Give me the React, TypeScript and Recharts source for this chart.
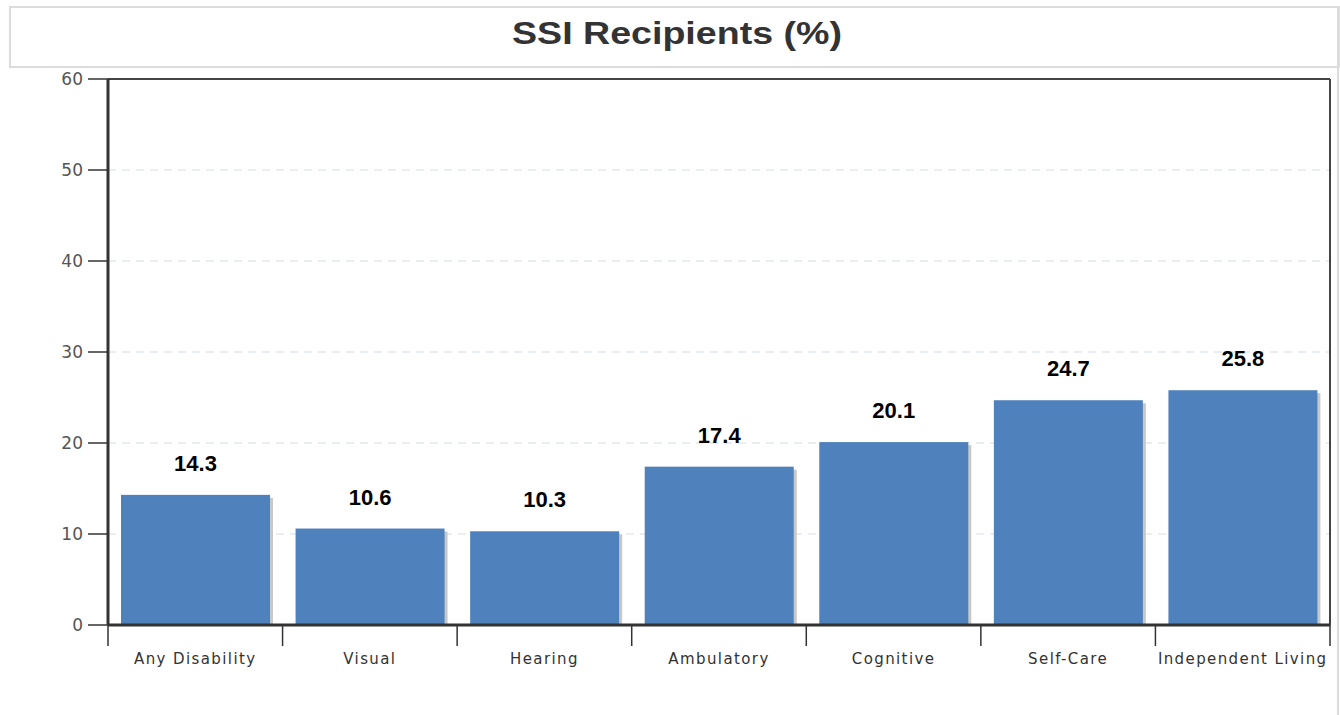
import React from 'react';
import { ComposedChart, Bar, XAxis, YAxis, CartesianGrid, LabelList, ReferenceLine } from 'recharts';

const categories = ['Any Disability', 'Visual', 'Hearing', 'Ambulatory', 'Cognitive', 'Self-Care', 'Independent Living'];
const values = [14.3, 10.6, 10.3, 17.4, 20.1, 24.7, 25.8];
const yTicks = [0, 10, 20, 30, 40, 50, 60];
const title = 'SSI Recipients (%)';

const data = categories.map((c, i) => ({ name: c, value: values[i] }));

const BarShape = (props: any) => {
  const { x, y, width, height } = props;
  if (height <= 0) return null;
  return (
    <g>
      <rect x={x + 3} y={y + 3} width={width} height={Math.max(0, height - 3)} fill="#c8c8c8" />
      <rect x={x} y={y} width={width} height={height} fill="#4f81bd" />
    </g>
  );
};

const XTick = (props: any) => {
  const { x, y, payload, index } = props;
  const off = payload.offset ?? 0;
  const last = index === categories.length - 1;
  return (
    <g>
      <line x1={x - off} x2={x - off} y1={y} y2={y + 21} stroke="#333" strokeWidth={1.5} />
      {last && <line x1={x + off} x2={x + off} y1={y} y2={y + 21} stroke="#333" strokeWidth={1.5} />}
      <text
        x={x}
        y={y + 39}
        textAnchor="middle"
        fill="#333"
        fontSize={15}
        fontFamily="DejaVu Sans, sans-serif"
        style={{ letterSpacing: '1.4px' }}
      >
        {payload.value}
      </text>
    </g>
  );
};

export default function App() {
  return (
    <div style={{ position: 'absolute', left: 0, top: 0, width: 1340, height: 715, background: '#fff' }}>
      <div
        style={{
          position: 'absolute',
          left: 9,
          top: 6,
          width: 1328,
          height: 58,
          border: '2px solid #dcdcdc',
        }}
      />
      <div style={{ position: 'absolute', left: 1337, top: 6, width: 2, height: 709, background: '#dcdcdc' }} />
      <svg style={{ position: 'absolute', left: 0, top: 0 }} width={1340} height={70}>
        <text
          x={677}
          y={44}
          textAnchor="middle"
          fontSize={31}
          fontWeight="bold"
          fill="#333"
          fontFamily="Liberation Sans, Arial, sans-serif"
          textLength={330}
          lengthAdjust="spacingAndGlyphs"
        >
          {title}
        </text>
      </svg>
      <div style={{ position: 'absolute', left: 0, top: 0 }}>
        <ComposedChart
          width={1340}
          height={715}
          data={data}
          margin={{ top: 79, right: 10, bottom: 60, left: 48 }}
          barCategoryGap={13}
        >
          <CartesianGrid horizontal vertical={false} stroke="#d5dce4" strokeDasharray="8 6" />
          <XAxis
            dataKey="name"
            height={30}
            axisLine={{ stroke: '#333', strokeWidth: 3 }}
            tickLine={false}
            tickSize={0}
            tickMargin={0}
            tick={<XTick />}
            interval={0}
          />
          <YAxis
            width={60}
            domain={[0, 60]}
            ticks={yTicks}
            interval={0}
            axisLine={{ stroke: '#333', strokeWidth: 3 }}
            tickLine={{ stroke: '#333', strokeWidth: 1.5 }}
            tickSize={20}
            tickMargin={5}
            tick={{ fill: '#555', fontSize: 17, fontFamily: 'DejaVu Sans, sans-serif' }}
          />
          <ReferenceLine y={60} stroke="#444" strokeWidth={2} ifOverflow="visible" />
          <ReferenceLine x="Independent Living" position="end" stroke="#444" strokeWidth={2} ifOverflow="visible" />
          <Bar dataKey="value" isAnimationActive={false} shape={<BarShape />}>
            <LabelList
              dataKey="value"
              position="top"
              offset={24}
              fill="#000"
              fontSize={22}
              fontWeight="bold"
              fontFamily="Liberation Sans, Arial, sans-serif"
              formatter={(v: any) => Number(v).toFixed(1)}
            />
          </Bar>
        </ComposedChart>
      </div>
    </div>
  );
}
